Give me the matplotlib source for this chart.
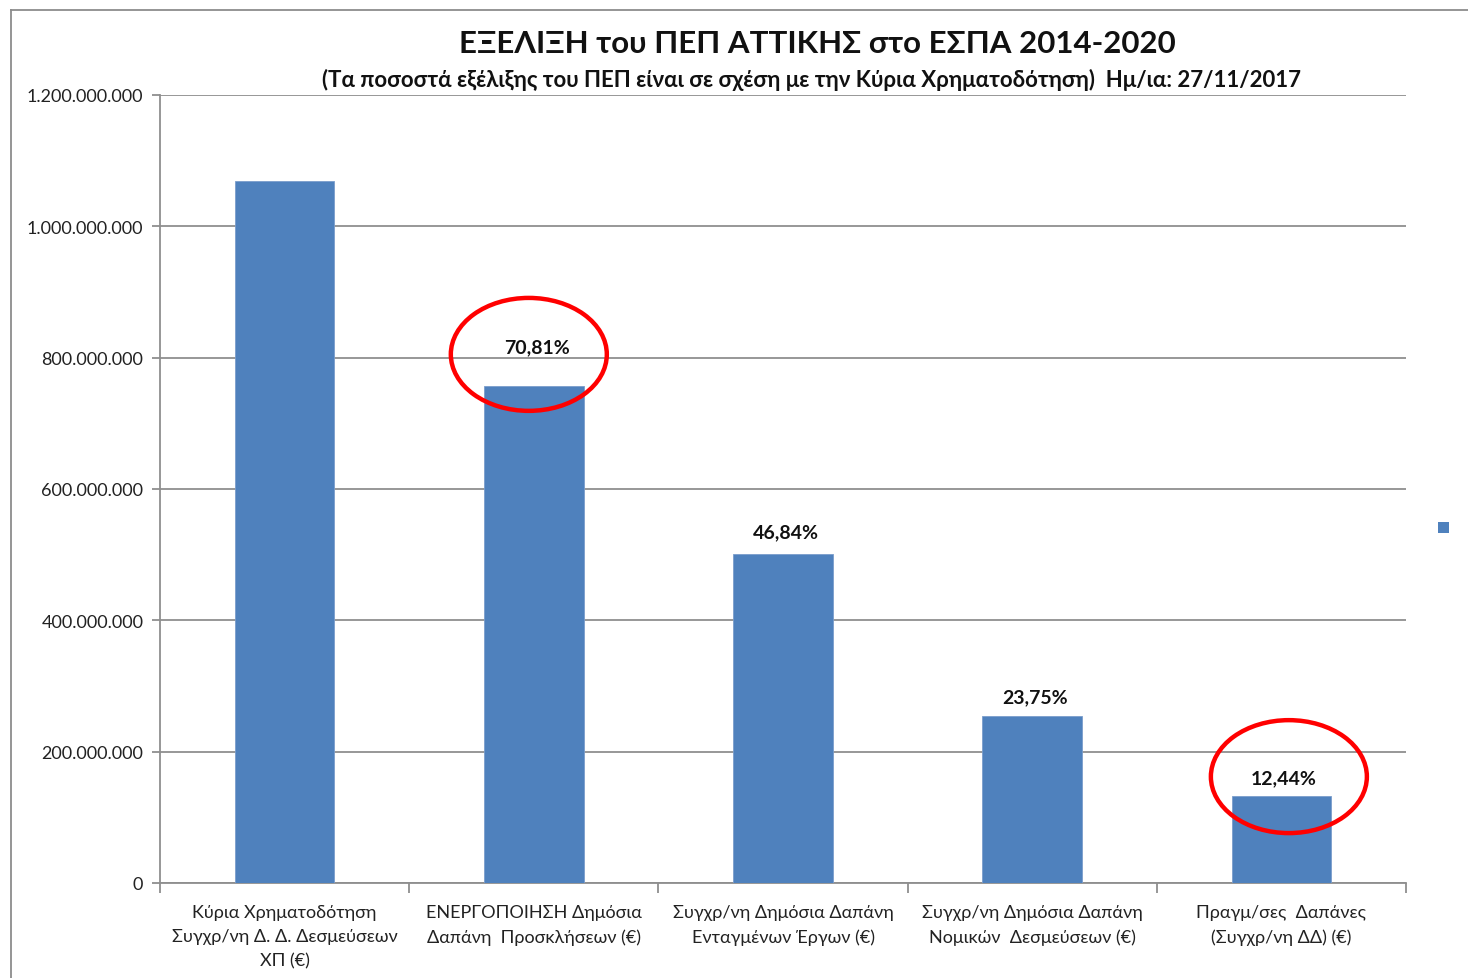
import matplotlib
matplotlib.use("Agg")
import matplotlib.pyplot as plt
from matplotlib.patches import Ellipse, Rectangle
from matplotlib.lines import Line2D
from matplotlib.ticker import FuncFormatter, FixedLocator

plt.rcParams['font.family'] = ['Lato', 'Open Sans', 'DejaVu Sans']

# ---------------- data ----------------
categories = [
    "Κύρια Χρηματοδότηση\nΣυγχρ/νη Δ. Δ. Δεσμεύσεων\nΧΠ (€)",
    "ΕΝΕΡΓΟΠΟΙΗΣΗ Δημόσια\nΔαπάνη  Προσκλήσεων (€)",
    "Συγχρ/νη Δημόσια Δαπάνη\nΕνταγμένων Έργων (€)",
    "Συγχρ/νη Δημόσια Δαπάνη\nΝομικών  Δεσμεύσεων (€)",
    "Πραγμ/σες  Δαπάνες\n(Συγχρ/νη ΔΔ) (€)",
]
values = [1069e6, 757e6, 501e6, 254e6, 133e6]
pct_labels = ["", "70,81%", "46,84%", "23,75%", "12,44%"]
yticks = [0, 200e6, 400e6, 600e6, 800e6, 1000e6, 1200e6]
highlighted = [1, 4]

title = "ΕΞΕΛΙΞΗ του ΠΕΠ ΑΤΤΙΚΗΣ στο ΕΣΠΑ 2014-2020"
subtitle = "(Τα ποσοστά εξέλιξης του ΠΕΠ είναι σε σχέση με την Κύρια Χρηματοδότηση)  Ημ/ια: 27/11/2017"

# ---------------- styling ----------------
W, H = 1468, 979
bar_color = "#4F81BD"
grid_color = "#8f8f8f"
label_offsets_pt = [0, 28, 16, 14, 13]

fig = plt.figure(figsize=(W / 100, H / 100), dpi=100)
ax = fig.add_axes([160 / W, 1 - 884 / H, (1406 - 160) / W, (884 - 96) / H])

x = list(range(len(categories)))
bars = ax.bar(x, values, width=0.4, color=bar_color, edgecolor="#7a9dcc",
              linewidth=0.6, zorder=3)

ax.set_xlim(-0.5, len(categories) - 0.5)
ax.set_ylim(0, 1200e6)
ax.set_yticks(yticks)
ax.yaxis.set_major_formatter(FuncFormatter(lambda v, p: f"{int(v):,}".replace(",", ".")))
ax.grid(axis="y", color=grid_color, linewidth=1.3, zorder=0)

for s in ["top", "right"]:
    ax.spines[s].set_visible(False)
for s in ["left", "bottom"]:
    ax.spines[s].set_color(grid_color)
    ax.spines[s].set_linewidth(1.3)

ax.tick_params(axis="y", length=6, width=1.3, color=grid_color, labelsize=13,
               labelcolor="#222222", pad=6)
ax.set_xticks(x)
ax.set_xticklabels(categories, fontsize=13, color="#222222", linespacing=1.62)
ax.tick_params(axis="x", which="major", length=0, pad=15)
ax.xaxis.set_minor_locator(FixedLocator([i - 0.5 for i in range(len(categories) + 1)]))
ax.tick_params(axis="x", which="minor", length=7, width=1.3, color=grid_color)

for xi, v, lab, off in zip(x, values, pct_labels, label_offsets_pt):
    if lab:
        ax.annotate(lab, (xi, v), xytext=(2, off), textcoords="offset points",
                    ha="center", va="center", fontsize=14, fontweight="bold",
                    color="#111111", zorder=5)

# red highlight ellipses
for idx in highlighted:
    ax.add_patch(Ellipse((idx - 0.02 if idx == 1 else idx + 0.03,
                          values[idx] + (48e6 if idx == 1 else 29e6)),
                         0.626, 0.172e9, fill=False, edgecolor="#ff0000",
                         linewidth=3.2, zorder=6, clip_on=False))

# titles
fig.text(817 / W, 1 - 44 / H, title, ha="center", va="center",
         fontsize=22.5, fontweight="bold", color="#111111")
fig.text(812 / W, 1 - 80 / H, subtitle, ha="center", va="center",
         fontsize=16, fontweight="bold", color="#111111")

# legend marker (empty label)
fig.patches.append(Rectangle((1438 / W, 1 - 534 / H), 11 / W, 11 / H,
                             transform=fig.transFigure, facecolor=bar_color,
                             edgecolor="none", figure=fig))

# chart area border
fig.add_artist(Line2D([11 / W, 11 / W], [0, 1 - 11 / H], transform=fig.transFigure,
                      color="#8c8c8c", linewidth=1.3))
fig.add_artist(Line2D([11 / W, 1], [1 - 11 / H, 1 - 11 / H], transform=fig.transFigure,
                      color="#8c8c8c", linewidth=1.3))

fig.savefig("out.png", dpi=100, facecolor="white")
